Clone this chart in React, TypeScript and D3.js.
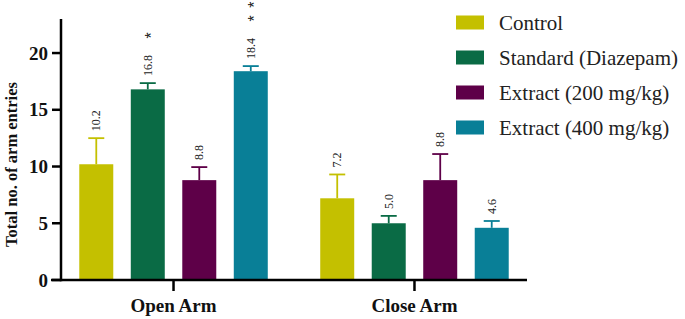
import React from 'react';
import * as d3 from 'd3';

const groups = ['Open Arm', 'Close Arm'];
const seriesNames = ['Control', 'Standard (Diazepam)', 'Extract (200 mg/kg)', 'Extract (400 mg/kg)'];
const colors = ['#c4c000', '#0a6b45', '#5e0048', '#097f97'];

const openValues = [10.2, 16.8, 8.8, 18.4];
const openErrors = [2.3, 0.55, 1.15, 0.45];
const openSig = ['', '*', '', '* *'];

const closeValues = [7.2, 5.0, 8.8, 4.6];
const closeErrors = [2.1, 0.65, 2.3, 0.6];
const closeSig = ['', '', '', ''];

const yTicks = [0, 5, 10, 15, 20];

const W = 685;
const H = 319;
const serif = '"Liberation Serif", "Times New Roman", serif';

export default function App() {
  const left = 61;
  const right = 527;
  const top = 19;
  const bottom = 280;

  const y = d3.scaleLinear().domain([0, 23]).range([bottom, top]);
  const x0 = d3.scalePoint<string>().domain(groups).range([left, right]).padding(0.467);
  const x1 = d3.scaleBand<string>().domain(seriesNames).range([-103, 103]).paddingInner(0.34).paddingOuter(0.17);

  const table = [
    { group: groups[0], values: openValues, errors: openErrors, sig: openSig },
    { group: groups[1], values: closeValues, errors: closeErrors, sig: closeSig },
  ];

  const labelSize = 12;
  const starSize = 16;

  return (
    <svg width={W} height={H} style={{ position: 'absolute', left: 0, top: 0, background: '#fff' }}>
      {/* bars */}
      {table.map((g) => (
        <g key={g.group} transform={`translate(${x0(g.group)},0)`}>
          {seriesNames.map((s, i) => {
            const bx = x1(s)!;
            const bw = x1.bandwidth();
            const cx = bx + bw / 2;
            const v = g.values[i];
            const errTop = y(v + g.errors[i]);
            const label = v.toFixed(1);
            const labelBottom = errTop - 7;
            const labelLen = label.length * labelSize * 0.47;
            const labelTop = labelBottom - labelLen;
            return (
              <g key={s}>
                <rect x={bx} y={y(v)} width={bw} height={bottom - y(v)} fill={colors[i]} />
                <line x1={cx} x2={cx} y1={y(v)} y2={errTop} stroke={colors[i]} strokeWidth={1.8} />
                <line x1={cx - 8} x2={cx + 8} y1={errTop} y2={errTop} stroke={colors[i]} strokeWidth={1.8} />
                <text
                  transform={`translate(${cx + labelSize * 0.35},${labelBottom}) rotate(-90)`}
                  fontFamily={serif}
                  fontSize={labelSize}
                  fill="#222"
                >
                  {label}
                </text>
                {g.sig[i] && (
                  <text
                    transform={`translate(${cx + starSize * 0.59},${labelTop - 15}) rotate(-90)`}
                    fontFamily={'"Liberation Sans", Arial, sans-serif'}
                    fontSize={starSize}
                    letterSpacing={1.5}
                    fill="#222"
                  >
                    {g.sig[i]}
                  </text>
                )}
              </g>
            );
          })}
        </g>
      ))}

      {/* y axis */}
      <line x1={left} x2={left} y1={top} y2={bottom + 1.25} stroke="#000" strokeWidth={2.5} />
      {yTicks.map((t) => (
        <g key={t}>
          <line x1={left - 9} x2={left} y1={y(t)} y2={y(t)} stroke="#000" strokeWidth={2.5} />
          <text
            x={left - 13}
            y={y(t)}
            dy="0.35em"
            textAnchor="end"
            fontFamily={serif}
            fontWeight="bold"
            fontSize={19}
            fill="#111"
          >
            {t}
          </text>
        </g>
      ))}
      <text
        transform={`translate(17,${(top + bottom) / 2 + 15}) rotate(-90)`}
        textAnchor="middle"
        fontFamily={serif}
        fontWeight="bold"
        fontSize={16.5}
        fill="#111"
      >
        Total no. of arm entries
      </text>

      {/* x axis */}
      <line x1={left - 10} x2={right} y1={bottom} y2={bottom} stroke="#000" strokeWidth={2.5} />
      {groups.map((g) => (
        <g key={g}>
          <line x1={x0(g)} x2={x0(g)} y1={bottom} y2={bottom + 11} stroke="#000" strokeWidth={2.5} />
          <text
            x={x0(g)}
            y={312}
            textAnchor="middle"
            fontFamily={serif}
            fontWeight="bold"
            fontSize={19}
            fill="#111"
          >
            {g}
          </text>
        </g>
      ))}

      {/* legend */}
      {seriesNames.map((s, i) => (
        <g key={s} transform={`translate(456,${22.5 + i * 35})`}>
          <rect x={0} y={-7} width={28} height={14} fill={colors[i]} />
          <text x={43} y={0} dy="0.35em" fontFamily={serif} fontSize={21} fill="#222">
            {s}
          </text>
        </g>
      ))}
    </svg>
  );
}
